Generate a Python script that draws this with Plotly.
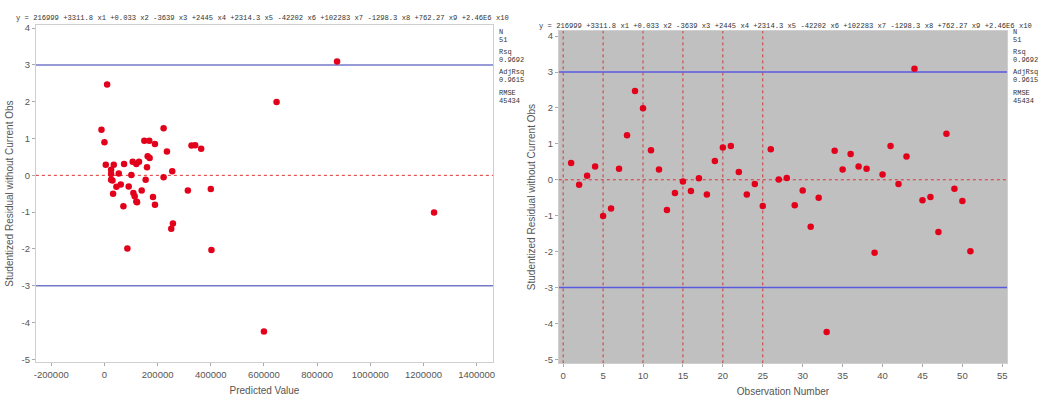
import plotly.graph_objects as go

# ---- data ----
obs = list(range(1, 52))
predicted = [170000, 30000, 255000, 106250, 1240000, 190000, 73750, -11250, 10000, 647500,
             341250, 5000, 71250, 400000, 222500, 45000, 25000, 140000, 162500, 0,
             150000, 160000, 313750, 25000, 122500, 190000, 101250, 53750, 120000, 91250,
             257500, 32500, 600000, 327500, 35000, 363750, 130000, 120000, 402500, 25000,
             168750, 155000, 235000, 875000, 113750, 108750, 251250, 222500, 61250, 182500,
             86250]
rstudent = [0.47, -0.14, 0.11, 0.37, -1.01, -0.80, 0.31, 1.24, 2.47, 1.99,
            0.82, 0.29, -0.84, -0.37, -0.05, -0.31, 0.04, -0.41, 0.52, 0.90,
            0.94, 0.22, -0.41, -0.12, -0.73, 0.85, 0.01, 0.05, -0.71, -0.30,
            -1.31, -0.50, -4.24, 0.81, 0.29, 0.72, 0.37, 0.31, -2.03, 0.15,
            0.94, -0.12, 0.65, 3.09, -0.57, -0.48, -1.45, 1.28, -0.25, -0.59,
            -1.99]
ref_lines_y = [3, -3]
zero_line = 0
ref_obs = [0, 5, 10, 15, 20, 25]

x_ticks_left = [-200000, 0, 200000, 400000, 600000, 800000, 1000000, 1200000, 1400000]
x_ticks_right = [0, 5, 10, 15, 20, 25, 30, 35, 40, 45, 50, 55]
y_ticks = [-5, -4, -3, -2, -1, 0, 1, 2, 3, 4]

equation = ("y = 216999 +3311.8 x1 +0.033 x2 -3639 x3 +2445 x4 +2314.3 x5 -42202 x6 "
            "+102283 x7 -1298.3 x8 +762.27 x9 +2.46E6 x10")
stats_labels = ["N", "Rsq", "AdjRsq", "RMSE"]
stats_values = ["51", "0.9692", "0.9615", "45434"]

W, H = 1039, 402
def fx(px): return px / W
def fy(py): return 1 - py / H

fig = go.Figure()
marker = dict(color="#e3001b", size=6.5, line=dict(width=0))
fig.add_trace(go.Scatter(x=predicted, y=rstudent, mode="markers", marker=marker,
                         xaxis="x", yaxis="y", showlegend=False))
fig.add_trace(go.Scatter(x=obs, y=rstudent, mode="markers", marker=marker,
                         xaxis="x2", yaxis="y2", showlegend=False))

tickfont = dict(family="Arial, Liberation Sans", size=9.5, color="#555")
titlefont = dict(family="Arial, Liberation Sans", size=10, color="#555")

common_axis = dict(showgrid=False, zeroline=False, ticks="outside", ticklen=3,
                   tickcolor="#aaa", tickfont=tickfont, showline=True, mirror=True,
                   linecolor="#cfcfcf", linewidth=1)

fig.update_layout(
    width=W, height=H, margin=dict(l=0, r=0, t=0, b=0),
    paper_bgcolor="white", plot_bgcolor="white",
    xaxis=dict(domain=[fx(34), fx(493)], range=[-258000, 1462000], anchor="y",
               tickvals=x_ticks_left, ticktext=[str(v) for v in x_ticks_left],
               title=dict(text="Predicted Value", font=titlefont, standoff=8), **common_axis),
    yaxis=dict(domain=[fy(364), fy(23)], range=[-5.08, 4.09], anchor="x",
               tickvals=y_ticks, ticktext=[str(v) for v in y_ticks],
               title=dict(text="Studentized Residual without Current Obs", font=titlefont, standoff=6),
               **common_axis),
    xaxis2=dict(domain=[fx(559), fx(1009)], range=[-0.54, 55.6], anchor="y2",
                tickvals=x_ticks_right, ticktext=[str(v) for v in x_ticks_right],
                title=dict(text="Observation Number", font=titlefont, standoff=8), **common_axis),
    yaxis2=dict(domain=[fy(365), fy(29)], range=[-5.11, 4.15], anchor="x2",
                tickvals=y_ticks, ticktext=[str(v) for v in y_ticks],
                title=dict(text="Studentized Residual without Current Obs", font=titlefont, standoff=6),
                **common_axis),
)

shapes = []
# grey background of right panel
shapes.append(dict(type="rect", xref="x2 domain", yref="y2 domain", x0=0, x1=1, y0=0, y1=1,
                   fillcolor="#c0c0c0", line=dict(width=0), layer="below"))
for xv in ref_obs:
    shapes.append(dict(type="line", xref="x2", yref="y2 domain", x0=xv, x1=xv, y0=0, y1=1,
                       line=dict(color="#cc3a3a", width=1, dash="3px,3px"), layer="below"))
for xr, yr, col in (("x", "y", "#7379c9"), ("x2", "y2", "#5858e0")):
    for yv in ref_lines_y:
        shapes.append(dict(type="line", xref=xr + " domain", yref=yr, x0=0, x1=1, y0=yv, y1=yv,
                           line=dict(color=col, width=1.5), layer="below"))
    shapes.append(dict(type="line", xref=xr + " domain", yref=yr, x0=0, x1=1,
                       y0=zero_line, y1=zero_line,
                       line=dict(color="#e03030", width=1, dash="3px,3px"), layer="below"))
fig.update_layout(shapes=shapes)

monofont = dict(family="Liberation Mono, Courier New, monospace", size=7.15, color="#333")
annotations = [
    dict(text=equation, xref="paper", yref="paper", x=fx(12), y=fy(16), xanchor="left",
         yanchor="middle", showarrow=False, font=monofont),
    dict(text=equation, xref="paper", yref="paper", x=fx(537), y=fy(24), xanchor="left",
         yanchor="middle", showarrow=False, font=monofont),
]
stat_font = dict(family="Liberation Mono, Courier New, monospace", size=7, color="#333")
label_y = [30, 51, 71, 92]
value_y = [38, 59, 79, 100]
for x0 in (497, 1013):
    for lab, val, ly, vy in zip(stats_labels, stats_values, label_y, value_y):
        for txt, yy in ((lab, ly), (val, vy)):
            annotations.append(dict(text=txt, xref="paper", yref="paper",
                                    x=fx(x0), y=fy(yy), xanchor="left", yanchor="middle",
                                    showarrow=False, font=stat_font))
fig.update_layout(annotations=annotations)

fig.write_html("out.html", config={"displayModeBar": False},
               post_script="document.body.style.margin='0';document.body.style.overflow='hidden';")
